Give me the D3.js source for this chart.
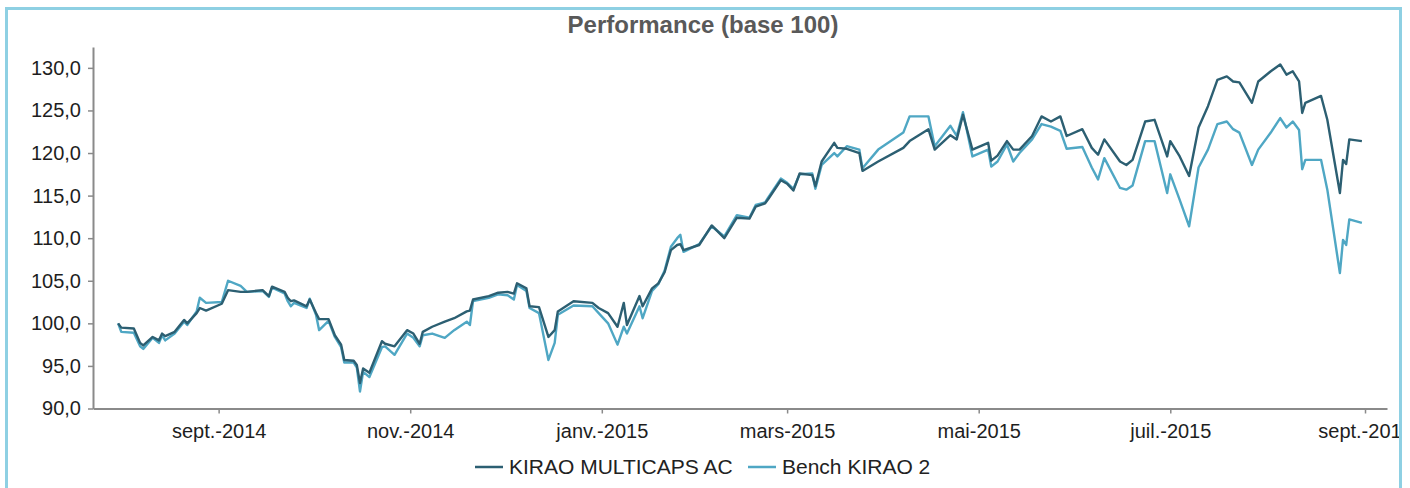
<!DOCTYPE html>
<html>
<head>
<meta charset="utf-8">
<script src="https://cdn.jsdelivr.net/npm/d3@7"></script>
<style>
  body { margin: 0; background: #fff; }
  svg { display: block; font-family: "Liberation Sans", Arial, sans-serif; }
</style>
</head>
<body>
<svg id="chart" width="1410" height="488"></svg>
<script>
// dates (approx)
var dates = ["2014-07-31","2014-08-01","2014-08-05","2014-08-07","2014-08-08","2014-08-11","2014-08-13","2014-08-14","2014-08-15","2014-08-18",
  "2014-08-21","2014-08-22","2014-08-25","2014-08-26","2014-08-28","2014-09-02","2014-09-04","2014-09-08","2014-09-10","2014-09-15",
  "2014-09-17","2014-09-18","2014-09-22","2014-09-23","2014-09-24","2014-09-25","2014-09-29","2014-09-30","2014-10-02","2014-10-03",
  "2014-10-06","2014-10-08","2014-10-10","2014-10-11","2014-10-14","2014-10-15","2014-10-16","2014-10-17","2014-10-19","2014-10-23",
  "2014-10-24","2014-10-27","2014-10-31","2014-11-02","2014-11-04","2014-11-05","2014-11-08","2014-11-12","2014-11-15","2014-11-19",
  "2014-11-20","2014-11-21","2014-11-26","2014-11-29","2014-12-02","2014-12-04","2014-12-05","2014-12-08","2014-12-09","2014-12-12",
  "2014-12-15","2014-12-17","2014-12-18","2014-12-23","2014-12-29","2014-12-31","2015-01-03","2015-01-06","2015-01-08","2015-01-09",
  "2015-01-13","2015-01-14","2015-01-17","2015-01-19","2015-01-21","2015-01-23","2015-01-25","2015-01-26","2015-01-27","2015-02-01",
  "2015-02-05","2015-02-09","2015-02-13","2015-02-17","2015-02-19","2015-02-22","2015-02-23","2015-02-27","2015-03-01","2015-03-03",
  "2015-03-05","2015-03-09","2015-03-10","2015-03-12","2015-03-16","2015-03-17","2015-03-20","2015-03-24","2015-03-25","2015-03-30",
  "2015-04-07","2015-04-09","2015-04-15","2015-04-17","2015-04-22","2015-04-24","2015-04-26","2015-04-29","2015-05-04","2015-05-05",
  "2015-05-07","2015-05-10","2015-05-12","2015-05-14","2015-05-18","2015-05-21","2015-05-24","2015-05-27","2015-05-29","2015-06-03",
  "2015-06-06","2015-06-08","2015-06-10","2015-06-15","2015-06-17","2015-06-19","2015-06-23","2015-06-26","2015-06-30","2015-07-01",
  "2015-07-04","2015-07-07","2015-07-10","2015-07-13","2015-07-16","2015-07-19","2015-07-21","2015-07-23","2015-07-27","2015-07-29",
  "2015-08-02","2015-08-05","2015-08-07","2015-08-09","2015-08-11","2015-08-12","2015-08-13","2015-08-18","2015-08-20","2015-08-24",
  "2015-08-25","2015-08-26","2015-08-27","2015-08-31"];

var kirao = [100.0,99.5,99.4,97.7,97.4,98.4,98.0,98.8,98.5,99.0,
  100.4,100.0,101.2,101.8,101.5,102.3,103.9,103.7,103.7,103.9,
  103.2,104.3,103.7,103.0,102.6,102.7,102.0,102.8,101.2,100.5,
  100.5,98.6,97.5,95.7,95.6,95.1,93.0,94.7,94.2,97.9,
  97.6,97.3,99.2,98.8,97.6,99.0,99.6,100.2,100.6,101.4,
  101.5,102.8,103.2,103.6,103.7,103.5,104.7,104.1,102.0,101.9,
  98.4,99.2,101.4,102.6,102.4,101.8,101.2,99.6,102.4,99.8,
  103.2,102.0,104.1,104.7,106.0,108.6,109.2,109.3,108.6,109.2,
  111.5,110.0,112.4,112.3,113.7,114.1,114.6,116.8,116.4,115.6,
  117.6,117.4,116.1,119.0,121.2,120.6,120.5,120.0,117.9,119.0,
  120.6,121.4,122.8,120.4,122.1,121.6,124.5,120.4,121.2,119.1,
  119.7,121.4,120.4,120.4,122.0,124.3,123.7,124.3,122.0,122.8,
  120.6,119.8,121.6,119.0,118.6,119.2,123.7,123.9,119.6,121.4,
  119.6,117.3,123.0,125.5,128.6,129.0,128.4,128.3,125.9,128.4,
  129.6,130.4,129.2,129.6,128.4,124.7,125.9,126.7,123.9,115.3,
  119.2,118.7,121.6,121.4];

var bench = [100.0,99.0,98.9,97.3,97.0,98.3,97.7,98.6,98.0,98.8,
  100.2,99.8,101.4,103.0,102.4,102.5,105.0,104.4,103.7,103.8,
  103.1,104.2,103.5,102.6,102.0,102.4,101.8,102.9,101.0,99.2,
  100.3,98.4,97.2,95.4,95.4,94.8,92.0,94.3,93.7,97.2,
  97.3,96.3,98.8,98.3,97.3,98.6,98.8,98.3,99.2,100.2,
  99.8,102.6,103.0,103.4,103.3,102.8,104.5,103.8,101.8,101.2,
  95.7,97.7,101.0,102.1,102.0,101.2,100.0,97.5,99.6,98.8,
  102.0,100.6,103.8,104.6,106.2,109.0,110.0,110.4,108.4,109.3,
  111.4,110.2,112.7,112.4,113.9,114.2,114.8,117.0,116.5,115.8,
  117.5,117.6,115.8,118.6,120.0,119.6,120.8,120.4,118.2,120.4,
  122.4,124.3,124.3,120.8,123.2,122.0,124.8,119.6,120.4,118.4,
  119.0,121.0,119.0,120.0,121.6,123.4,123.1,122.6,120.5,120.7,
  118.3,116.9,119.4,115.9,115.7,116.2,121.4,121.4,115.3,117.5,
  114.5,111.4,118.3,120.4,123.4,123.7,122.8,122.4,118.6,120.4,
  122.4,124.1,123.0,123.7,122.7,118.1,119.2,119.2,115.7,105.9,
  109.8,109.2,112.2,111.8];

var seriesNames = ["KIRAO MULTICAPS AC", "Bench KIRAO 2"];
var seriesColors = ["#2c5f72", "#4fa7c4"];

var yTicks = [90, 95, 100, 105, 110, 115, 120, 125, 130];
var xTickDates = ["2014-09-01","2014-11-01","2015-01-01","2015-03-01","2015-05-01","2015-07-01","2015-09-01"];
var xTickLabels = ["sept.-2014","nov.-2014","janv.-2015","mars-2015","mai-2015","juil.-2015","sept.-2015"];

var parse = d3.utcParse("%Y-%m-%d");
var fr = d3.formatLocale({decimal: ",", thousands: " ", grouping: [3], currency: ["", " €"]});
var fmt = fr.format(".1f");

var svg = d3.select("#chart");

svg.append("rect").attr("width", 1410).attr("height", 488).attr("fill", "#fff");

// title
svg.append("text")
  .attr("x", 703).attr("y", 33)
  .attr("text-anchor", "middle")
  .attr("font-size", 24).attr("font-weight", "bold")
  .attr("fill", "#595959")
  .text("Performance (base 100)");

var x = d3.scaleUtc()
  .domain([parse("2014-07-23"), parse("2015-09-08")])
  .range([93, 1387]);

var y = d3.scaleLinear()
  .domain([90, 132.45])
  .range([408.5, 47]);

var yAxis = svg.append("g")
  .attr("transform", "translate(93,0)")
  .call(d3.axisLeft(y).tickValues(yTicks).tickFormat(fmt).tickSize(5).tickSizeOuter(0).tickPadding(7));

var xAxis = svg.append("g")
  .attr("transform", "translate(0,408.5)")
  .call(d3.axisBottom(x)
    .tickValues(xTickDates.map(parse))
    .tickFormat(function(d, i) { return xTickLabels[i]; })
    .tickSize(5).tickSizeOuter(0).tickPadding(10));

[yAxis, xAxis].forEach(function(a) {
  a.select(".domain").attr("stroke", "#8a8a8a").attr("stroke-width", 2);
  a.selectAll(".tick line").attr("stroke", "#8a8a8a").attr("stroke-width", 1.5);
  a.selectAll("text").attr("font-size", 20).attr("fill", "#1e1e1e")
    .attr("font-family", "Liberation Sans, Arial, sans-serif");
});
xAxis.selectAll("text").attr("dy", "0.71em");

var line = d3.line()
  .x(function(d) { return x(d.date); })
  .y(function(d) { return y(d.v); });

var bData = dates.map(function(d, i) { return {date: parse(d), v: bench[i]}; });
var kData = dates.map(function(d, i) { return {date: parse(d), v: kirao[i]}; });

svg.append("path").datum(bData)
  .attr("d", line).attr("fill", "none")
  .attr("stroke", seriesColors[1]).attr("stroke-width", 2.4)
  .attr("stroke-linejoin", "round");

svg.append("path").datum(kData)
  .attr("d", line).attr("fill", "none")
  .attr("stroke", seriesColors[0]).attr("stroke-width", 2.4)
  .attr("stroke-linejoin", "round");

// legend
var legX = [475, 748];
seriesNames.forEach(function(name, i) {
  svg.append("line")
    .attr("x1", legX[i]).attr("x2", legX[i] + 28)
    .attr("y1", 467).attr("y2", 467)
    .attr("stroke", seriesColors[i]).attr("stroke-width", 2.5);
  svg.append("text")
    .attr("x", legX[i] + 34).attr("y", 474)
    .attr("font-size", 21).attr("fill", "#222")
    .text(name);
});

// frame (cuts the last label like the original)
svg.append("rect").attr("x", 1402).attr("y", 0).attr("width", 8).attr("height", 488).attr("fill", "#fff");
svg.append("rect")
  .attr("x", 6.5).attr("y", 8.5).attr("width", 1394).attr("height", 500)
  .attr("fill", "none").attr("stroke", "#8ed0e3").attr("stroke-width", 3);
</script>
</body>
</html>
